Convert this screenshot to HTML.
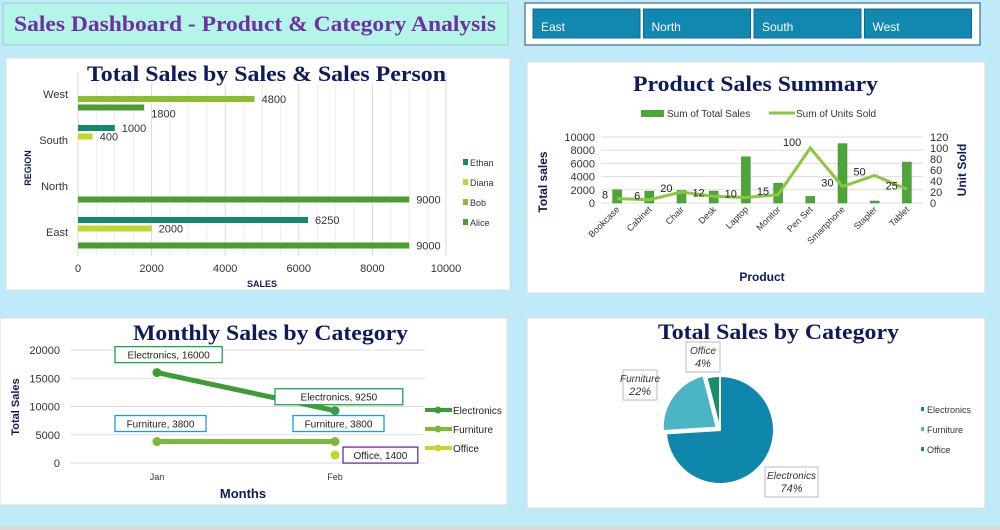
<!DOCTYPE html>
<html><head><meta charset="utf-8"><style>
body{margin:0;width:1000px;height:530px;background:#bfeaf8;overflow:hidden;font-family:"Liberation Sans",sans-serif}
svg{display:block}
.t{font-family:"Liberation Serif",serif;font-weight:bold;fill:#0d1a5c}
.tk{font-size:11px;fill:#333}
</style></head><body>
<svg id="s" width="1000" height="530" xmlns="http://www.w3.org/2000/svg">
<rect x="3" y="3" width="505" height="42" fill="#b3f5e8" stroke="#9ccfc8"/>
<text x="14" y="31" font-family="Liberation Serif,serif" font-weight="bold" font-size="22" fill="#7030a0" textLength="482" lengthAdjust="spacingAndGlyphs">Sales Dashboard - Product &amp; Category Analysis</text>
<rect x="525" y="3" width="455" height="42" fill="#fff" stroke="#1f4e79"/>
<g id="slicer"></g>
<rect x="6" y="58" width="504" height="232" fill="#fff" stroke="#ddd"/>
<rect x="527" y="62" width="458" height="231" fill="#fff" stroke="#ddd"/>
<rect x="0" y="318" width="507" height="187" fill="#fff" stroke="#ddd"/>
<rect x="527" y="318" width="458" height="190" fill="#fff" stroke="#ddd"/>
<rect x="0" y="526" width="1000" height="4" fill="#d9d9d9"/>
<g id="g1"></g><g id="g2"></g><g id="g3"></g><g id="g4"></g>
<rect x="110" y="62" width="320" height="22" fill="#fff"/>
<text class="t" x="87" y="81" font-size="22" textLength="359" lengthAdjust="spacingAndGlyphs">Total Sales by Sales &amp; Sales Person</text>
<text class="t" x="633" y="91" font-size="22" textLength="245" lengthAdjust="spacingAndGlyphs">Product Sales Summary</text>
<text class="t" x="133" y="340" font-size="22" textLength="275" lengthAdjust="spacingAndGlyphs">Monthly Sales by Category</text>
<text class="t" x="658" y="339" font-size="22" textLength="241" lengthAdjust="spacingAndGlyphs">Total Sales by Category</text>
</svg>
<script>
// ---- bar chart data
const regions = ["West","South","North","East"];
const people = ["Ethan","Diana","Bob","Alice"];
const ethanSales = [0,1000,0,6250];
const dianaSales = [0,400,0,2000];
const bobSales = [4800,0,0,0];
const aliceSales = [1800,0,9000,9000];
const salesTicks = [0,2000,4000,6000,8000,10000];
// ---- combo chart data
const products = ["Bookcase","Cabinet","Chair","Desk","Laptop","Monitor","Pen Set","Smartphone","Stapler","Tablet"];
const productSales = [2000,1800,1900,1800,7000,3000,1000,9000,300,6200];
const unitsSold = [8,6,20,12,10,15,100,30,50,25];
const salesAxisTicks = [0,2000,4000,6000,8000,10000];
const unitAxisTicks = [0,20,40,60,80,100,120];
// ---- line chart data
const months = ["Jan","Feb"];
const electronicsMonthly = [16000,9250];
const furnitureMonthly = [3800,3800];
const officeMonthly = [null,1400];
const monthlyTicks = [0,5000,10000,15000,20000];
// ---- pie data
const categories = ["Electronics","Furniture","Office"];
const categoryShare = [74,22,4];

const NS="http://www.w3.org/2000/svg";
function mk(p,tag,a,txt){const e=document.createElementNS(NS,tag);for(const k in a)e.setAttribute(k,a[k]);if(txt!=null)e.textContent=txt;p.appendChild(e);return e;}

// slicer
const sl=document.getElementById('slicer');
["East","North","South","West"].forEach((r,i)=>{
  const b=mk(sl,'rect',{x:533+i*110.5,y:9,width:107,height:29,fill:'#1287b0',stroke:'#0b6d8f'});
  
  
  const t=mk(sl,'text',{x:541+i*110.5,y:31,'font-size':12,fill:'#fff'},r);
  
  
});

// ---- chart 1
(function(){
const g=document.getElementById('g1');
const x0=78,x1=446,top=72,band=46;
const X=v=>x0+(x1-x0)*v/10000;
for(let v=0;v<=10000;v+=500){const l=mk(g,'line',{x1:X(v),x2:X(v),y1:top,y2:top+band*4,stroke:v%2000?'#eee':'#d9d9d9'});}
salesTicks.forEach(v=>{const t=mk(g,'text',{x:X(v),y:272,'text-anchor':'middle',class:'tk'},v);});
const cols=["#138a6e","#c3d62f","#8cbd2c","#4a9d2e"];
const series=[ethanSales,dianaSales,bobSales,aliceSales];
regions.forEach((r,i)=>{
  const t=mk(g,'text',{x:68,y:top+i*band+26,'text-anchor':'end',class:'tk','font-size':10},r);
  
  series.forEach((s,j)=>{
    if(!s[i])return;
    const y=top+i*band+7+j*8.5;
    const b=mk(g,'rect',{x:x0,y:y,width:X(s[i])-x0,height:6,fill:cols[j]});
    
    const lt=mk(g,'text',{x:X(s[i])+7,y:y+(j===3&&i===0?13:7),class:'tk'},s[i]);
    
  });
});
const yt=mk(g,'text',{x:31,y:168,transform:'rotate(-90 31 168)','text-anchor':'middle','font-size':9,'font-weight':'bold',fill:'#0d1a5c'},'REGION');

const xt=mk(g,'text',{x:262,y:287,'text-anchor':'middle','font-size':9,'font-weight':'bold',fill:'#0d1a5c'},'SALES');

people.forEach((p,j)=>{
  const y=163+j*20;
  const r=mk(g,'rect',{x:463,y:y-4,width:5,height:6,fill:cols[j]});
  const t=mk(g,'text',{x:470,y:y+3,'font-size':9,fill:'#333'},p);
});
})();

// ---- chart 2
(function(){
const g=document.getElementById('g2');
const x0=601,x1=923,y0=203,y1=137,bw=(x1-x0)/products.length;
const Y=v=>y0-(y0-y1)*v/10000, Y2=v=>y0-(y0-y1)*v/120, X=i=>x0+bw*(i+0.5);
salesAxisTicks.forEach(v=>{
  const l=mk(g,'line',{x1:x0,x2:x1,y1:Y(v),y2:Y(v),stroke:'#ddd'});
  const t=mk(g,'text',{x:595,y:Y(v)+4,'text-anchor':'end',class:'tk'},v);
});
unitAxisTicks.forEach(v=>{const t=mk(g,'text',{x:930,y:Y2(v)+4,class:'tk'},v);});
products.forEach((p,i)=>{
  const b=mk(g,'rect',{x:X(i)-4.5,y:Y(productSales[i]),width:9,height:y0-Y(productSales[i]),fill:'#4ea53a',stroke:'#3c8a2c','stroke-width':0.5});
  
  const t=mk(g,'text',{x:X(i)+3,y:210,transform:`rotate(-45 ${X(i)+3} 210)`,'text-anchor':'end','font-size':9,fill:'#333'},p);
  
});
const pts=unitsSold.map((v,i)=>X(i)+','+Y2(v)).join(' ');
const pl=mk(g,'polyline',{points:pts,fill:'none',stroke:'#8cc63f','stroke-width':3});

unitsSold.forEach((v,i)=>{const t=mk(g,'text',{x:X(i)-9,y:Y2(v)+(v===100?-2:0),'text-anchor':'end','font-size':11,fill:'#222'},v);});
const l1=mk(g,'rect',{x:641,y:110,width:23,height:7,fill:'#4ea53a'});
const t1=mk(g,'text',{x:667,y:117,'font-size':10,fill:'#333'},'Sum of Total Sales');
const l2=mk(g,'line',{x1:769,x2:795,y1:113,y2:113,stroke:'#8cc63f','stroke-width':3});
const t2=mk(g,'text',{x:796,y:117,'font-size':10,fill:'#333'},'Sum of Units Sold');
const a=mk(g,'text',{x:547,y:182,transform:'rotate(-90 547 182)','text-anchor':'middle','font-size':12,'font-weight':'bold',fill:'#0d1a5c'},'Total sales');
const b=mk(g,'text',{x:966,y:170,transform:'rotate(-90 966 170)','text-anchor':'middle','font-size':12,'font-weight':'bold',fill:'#0d1a5c'},'Unit Sold');
const c=mk(g,'text',{x:762,y:281,'text-anchor':'middle','font-size':12,'font-weight':'bold',fill:'#0d1a5c'},'Product');
})();

// ---- chart 3
(function(){
const g=document.getElementById('g3');
const x0=70,x1=425,y0=463,y1=350;
const Y=v=>y0-(y0-y1)*v/20000, X=i=>157+i*178;
monthlyTicks.forEach(v=>{
  const l=mk(g,'line',{x1:x0,x2:x1,y1:Y(v),y2:Y(v),stroke:'#ddd'});
  const t=mk(g,'text',{x:60,y:Y(v)+4,'text-anchor':'end',class:'tk'},v);
});
months.forEach((m,i)=>{const t=mk(g,'text',{x:X(i),y:480,'text-anchor':'middle','font-size':9,fill:'#333'},m);});
const sers=[[electronicsMonthly,'#3f9b35','Electronics','#1ea34a'],[furnitureMonthly,'#7cb83a','Furniture','#1a9be0'],[officeMonthly,'#c3d62f','Office','#6a2ca0']];
sers.forEach(([d,c,n,bc],k)=>{
  const p=[];d.forEach((v,i)=>{if(v!=null)p.push(X(i)+','+Y(v));});
  if(p.length>1){const l=mk(g,'polyline',{points:p.join(' '),fill:'none',stroke:c,'stroke-width':5});}
  d.forEach((v,i)=>{
    if(v==null)return;
    const m=mk(g,'circle',{cx:X(i),cy:Y(v),r:4.5,fill:c});
    const txt=n+', '+v;const w=txt.length*5.4+10;
    let bx,by;
    if(k===2){bx=X(i)+8;by=Y(v)-8;}else if(k===0&&i===1){bx=X(i)-60;by=Y(v)-22;}else{bx=X(i)-42;by=Y(v)-26;}
    const bw=(k===0&&i===1)?w+26:w;
    const r=mk(g,'rect',{x:bx,y:by,width:bw,height:16,fill:'#fff',stroke:bc,'stroke-width':1.3});
    const t=mk(g,'text',{x:bx+bw/2,y:by+12,'text-anchor':'middle','font-size':10,fill:'#222'},txt);
  });
  const ly=410+k*19;
  const ll=mk(g,'line',{x1:425,x2:452,y1:ly,y2:ly,stroke:c,'stroke-width':4});
  const lc=mk(g,'circle',{cx:438,cy:ly,r:3.5,fill:c});
  const lt=mk(g,'text',{x:453,y:ly+4,'font-size':10,fill:'#222'},n);
});
const a=mk(g,'text',{x:19,y:407,transform:'rotate(-90 19 407)','text-anchor':'middle','font-size':11,'font-weight':'bold',fill:'#0d1a5c'},'Total Sales');
const b=mk(g,'text',{x:243,y:498,'text-anchor':'middle','font-size':13,'font-weight':'bold',fill:'#0d1a5c'},'Months');
})();

// ---- chart 4
(function(){
const g=document.getElementById('g4');
const cx=720,cy=430,R=54;
const cols=['#0f87ad','#4cb5c4','#178f6a'];
const tot=categoryShare.reduce((a,b)=>a+b,0);
let a0=0;
const labels=[[765,467,53],[623,370,34],[686,342,34]];
categoryShare.forEach((v,i)=>{
  const a1=a0+v/tot*2*Math.PI, mid=(a0+a1)/2, off=i===1?4:0;
  const ox=cx+off*Math.sin(mid), oy=cy-off*Math.cos(mid);
  const P=a=>[ox+R*Math.sin(a),oy-R*Math.cos(a)];
  const [sx,sy]=P(a0),[ex,ey]=P(a1);
  const s=mk(g,'path',{d:`M${ox},${oy}L${sx},${sy}A${R},${R} 0 ${a1-a0>Math.PI?1:0} 1 ${ex},${ey}Z`,fill:cols[i],stroke:'#fff','stroke-width':2});
  
  const [lx,ly,lw]=labels[i];
  const r=mk(g,'rect',{x:lx,y:ly,width:lw,height:30,fill:'#fff',stroke:'#bbb'});
  const t=mk(g,'text',{x:lx+lw/2,y:ly+12,'text-anchor':'middle','font-size':10,'font-style':'italic',fill:'#333'},categories[i]);
  const t2=mk(g,'text',{x:lx+lw/2,y:ly+25,'text-anchor':'middle','font-size':11,'font-style':'italic',fill:'#333'},v+'%');
  a0=a1;
  const q=mk(g,'rect',{x:921,y:407+i*20,width:3,height:4,fill:cols[i]});
  const lt=mk(g,'text',{x:927,y:413+i*20,'font-size':9,fill:'#333'},categories[i]);
});
})();
</script>
</body></html>
